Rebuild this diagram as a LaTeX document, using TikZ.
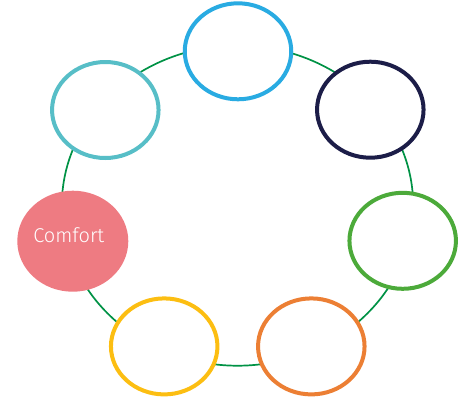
\documentclass[tikz,border=0pt]{standalone}
\usepackage{fontspec}
\newfontfamily\labelfont{Fira Sans Light}
\usepackage{tikz}
\usetikzlibrary{shapes.geometric}

\definecolor{ringgreen}{HTML}{009245}
\definecolor{skyblue}{HTML}{29ABE2}
\definecolor{nightblue}{HTML}{1C1D48}
\definecolor{tealblue}{HTML}{57BEC7}
\definecolor{rosepink}{HTML}{EE7B82}
\definecolor{leafgreen}{HTML}{4CAA3A}
\definecolor{sunyellow}{HTML}{FCBE12}
\definecolor{amber}{HTML}{EC7F34}

\begin{document}
\begin{tikzpicture}[
    x=1pt, y=-1pt,
    ring/.style={draw=ringgreen, line width=1.7pt},
    petal/.style={ellipse, draw, line width=4pt, fill=white, inner sep=0pt,
                  minimum width=106.5pt, minimum height=96pt},
    filled/.style={ellipse, draw=none, inner sep=0pt,
                   minimum width=111pt, minimum height=101pt},
    caption/.style={font=\labelfont\fontsize{20}{24}\selectfont, text=white,
                    inner sep=0pt, anchor=base}
]
\useasboundingbox (0,0) rectangle (464,400);
\coordinate (hub) at (237.5,205.6);
\draw[ring] (hub) ellipse [x radius=175.7, y radius=160.1];
\node[petal, draw=skyblue] (sky) at (238,51.3) {};
\node[petal, draw=nightblue] (night) at (370.3,109.7) {};
\node[petal, draw=tealblue] (teal) at (105.3,110) {};
\node[petal, draw=leafgreen] (leaf) at (402.7,240.8) {};
\node[petal, draw=sunyellow] (sun) at (164.2,346.4) {};
\node[petal, draw=amber] (orange) at (311.3,346.4) {};
\node[filled, fill=rosepink] (comfort) at (72.8,241.2) {};
\node[caption] (comforttext) at (68.8,242.3) {Comfort};
\end{tikzpicture}
\end{document}
